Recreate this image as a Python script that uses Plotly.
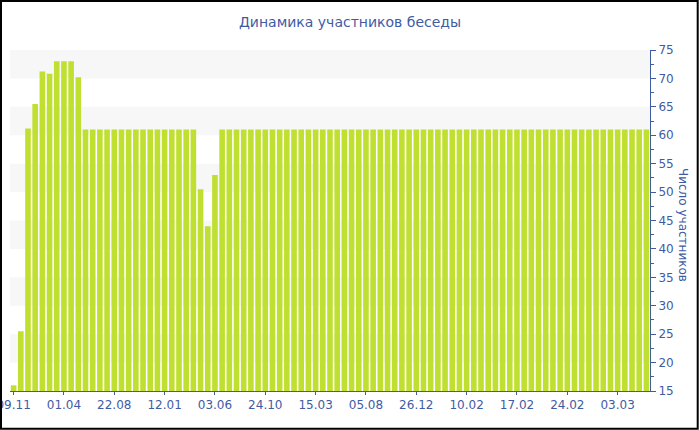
import plotly.graph_objects as go

# data
participants = [16, 25.5, 61.2, 65.5, 71.2, 70.8, 73, 73, 73, 70.2,
                61, 61, 61, 61, 61, 61, 61, 61, 61, 61, 61, 61, 61, 61, 61, 61,
                50.5, 44, 53,
                61, 61, 61, 61, 61, 61, 61, 61, 61, 61, 61, 61, 61, 61, 61, 61, 61, 61, 61, 61,
                61, 61, 61, 61, 61, 61, 61, 61, 61, 61, 61, 61, 61, 61, 61, 61, 61, 61, 61, 61,
                61, 61, 61, 61, 61, 61, 61, 61, 61, 61, 61, 61, 61, 61, 61, 61, 61, 61, 61, 61]
tick_labels = ["09.11", "01.04", "22.08", "12.01", "03.06", "24.10", "15.03",
               "05.08", "26.12", "10.02", "17.02", "24.02", "03.03"]
tick_step = 7
band_starts = [20, 30, 40, 50, 60, 70]

x_idx = list(range(len(participants)))
tick_vals = [i * tick_step for i in range(len(tick_labels))]

BLUE = "#3f5ba3"
BAR = "#bfe030"
FONT = "DejaVu Sans"

W, H = 700, 430
L, R, T, B = 10, 50, 50, 39
pw, ph = W - L - R, H - T - B

def px_to_paper_x(p):
    return (p - L) / pw

def px_to_paper_y(p):
    return (H - B - p) / ph

fig = go.Figure()
fig.add_trace(go.Bar(x=x_idx, y=participants, marker=dict(color=BAR, line=dict(width=0)),
                     hoverinfo="y"))

shapes = []
for s in band_starts:
    shapes.append(dict(type="rect", xref="paper", yref="y", x0=0, x1=1, y0=s, y1=s + 5,
                       fillcolor="#f7f7f7", line=dict(width=0), layer="below"))
shapes.append(dict(type="rect", xref="paper", yref="paper",
                   x0=px_to_paper_x(1), x1=px_to_paper_x(697.7),
                   y0=px_to_paper_y(428.8), y1=px_to_paper_y(1),
                   line=dict(color="black", width=2), fillcolor="rgba(0,0,0,0)"))

fig.update_layout(
    width=W, height=H,
    margin=dict(l=L, r=R, t=T, b=B, autoexpand=False),
    paper_bgcolor="white", plot_bgcolor="white",
    font=dict(family=FONT, color=BLUE, size=12),
    title=dict(text="Динамика участников беседы", x=0.5, xanchor="center",
               y=1 - 22 / H, yanchor="middle", font=dict(size=14, color=BLUE, family=FONT)),
    bargap=0.22,
    showlegend=False,
    shapes=shapes,
    xaxis=dict(range=[-0.5, len(participants) - 0.5], tickmode="array",
               tickvals=tick_vals, ticktext=tick_labels, ticklabeloverflow="allow",
               showgrid=False, zeroline=False, showline=True, linecolor=BLUE, linewidth=1,
               ticks="outside", ticklen=3, tickcolor=BLUE, tickfont=dict(size=12, color=BLUE)),
    yaxis=dict(side="right", range=[15, 75], tick0=15, dtick=5, ticklabeloverflow="allow",
               showgrid=False, zeroline=False, showline=True, linecolor=BLUE, linewidth=1,
               ticks="outside", ticklen=5, tickcolor=BLUE, tickfont=dict(size=12, color=BLUE),
               minor=dict(ticks="outside", ticklen=3, dtick=2.5, tick0=15, tickcolor=BLUE,
                          showgrid=False)),
    annotations=[dict(text="Число участников", textangle=90, xref="paper", yref="paper",
                      x=px_to_paper_x(683), y=px_to_paper_y(225), xanchor="center",
                      yanchor="middle", showarrow=False, font=dict(size=12, color=BLUE, family=FONT))],
)

fig.write_html("out.html", config={"displayModeBar": False},
               post_script="document.body.style.margin='0';document.body.style.overflow='hidden';")
